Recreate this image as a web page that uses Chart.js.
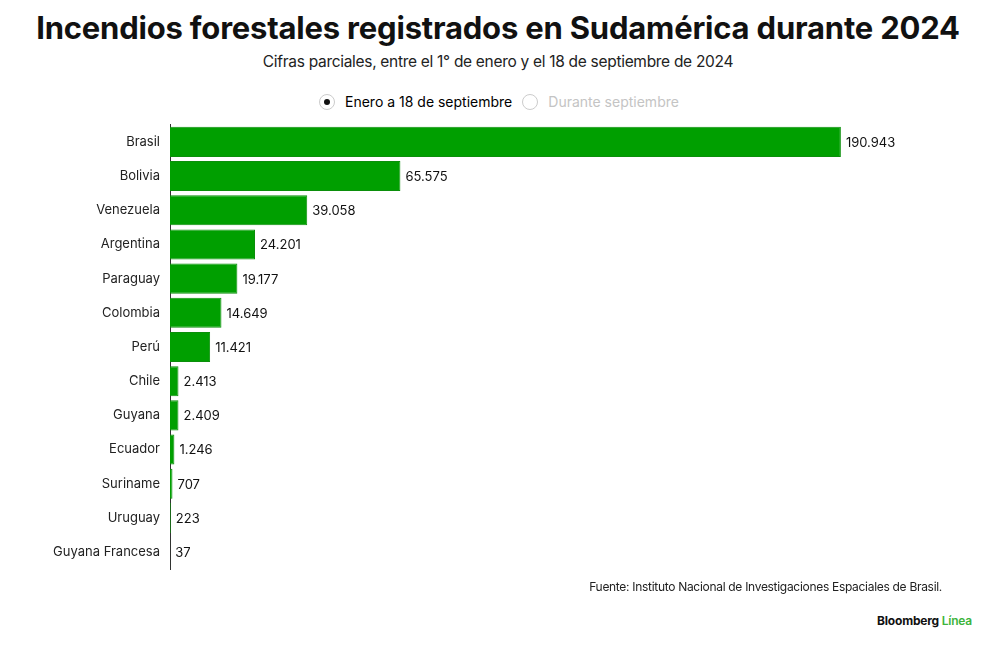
<!DOCTYPE html>
<html>
<head>
<meta charset="utf-8">
<script src="https://cdn.jsdelivr.net/npm/chart.js@4"></script>
<style>
  body { margin: 0; background: #fff; font-family: Inter, "Liberation Sans", sans-serif; }
  #wrap { position: relative; width: 1000px; height: 650px; overflow: hidden; }
  h1 { position: absolute; top: 9px; left: 0; width: 996px; margin: 0; text-align: center;
       font-size: 31px; font-weight: 700; letter-spacing: -0.2px; color: #111; }
  .sub { position: absolute; top: 52px; left: 0; width: 996px; text-align: center;
         font-size: 15.5px; color: #222; letter-spacing: -0.3px; }
  .legend { position: absolute; top: 93px; left: 319px; font-size: 14px; display: flex; align-items: center; }
  .radio { width: 16px; height: 16px; border: 1px solid #ccc; border-radius: 50%; box-sizing: border-box;
           display: inline-flex; align-items: center; justify-content: center; margin-right: 10px; }
  .radio.on::after { content: ""; width: 6px; height: 6px; border-radius: 50%; background: #111; }
  .opt { display: flex; align-items: center; margin-right: 10px; }
  .off { color: #c4c4c4; }
  #box { position: absolute; top: 107px; left: 0; width: 1000px; height: 480px; }
  .src { position: absolute; top: 579px; right: 58px; font-size: 12px; color: #222; letter-spacing: -0.3px; }
  .brand { position: absolute; top: 613px; right: 28px; font-size: 12px; font-weight: 700; color: #111; letter-spacing: -0.2px; }
  .brand span { color: #3cb43c; font-weight: 600; }
</style>
</head>
<body>
<div id="wrap">
  <h1>Incendios forestales registrados en Sudamérica durante 2024</h1>
  <div class="sub">Cifras parciales, entre el 1° de enero y el 18 de septiembre de 2024</div>
  <div class="legend">
    <div class="opt"><span class="radio on"></span>Enero a 18 de septiembre</div>
    <div class="opt off"><span class="radio"></span>Durante septiembre</div>
  </div>
  <div id="box"><canvas id="chart"></canvas></div>
  <div class="src">Fuente: Instituto Nacional de Investigaciones Espaciales de Brasil.</div>
  <div class="brand">Bloomberg <span>Línea</span></div>
</div>
<script>
// datos: focos de incendio, 1 enero - 18 septiembre 2024
const paises = ['Brasil', 'Bolivia', 'Venezuela', 'Argentina', 'Paraguay', 'Colombia', 'Perú',
                'Chile', 'Guyana', 'Ecuador', 'Suriname', 'Uruguay', 'Guyana Francesa'];
const focos = [190943, 65575, 39058, 24201, 19177, 14649, 11421, 2413, 2409, 1246, 707, 223, 37];

function miles(n) {
    return String(n).replace(/\B(?=(\d{3})+(?!\d))/g, '.');
}

// etiquetas al final de cada barra
const etiquetas = {
    id: 'etiquetas',
    afterDatasetsDraw(chart) {
        const ctx = chart.ctx;
        const meta = chart.getDatasetMeta(0);
        ctx.save();
        ctx.font = '13px Inter, "Liberation Sans", sans-serif';
        ctx.fillStyle = '#111';
        ctx.textBaseline = 'middle';
        meta.data.forEach(function(bar, i) {
            ctx.fillText(miles(focos[i]), bar.x + 5, bar.y + 1);
        });
        ctx.restore();
    }
};

new Chart(document.getElementById('chart'), {
    type: 'bar',
    data: {
        labels: paises,
        datasets: [{
            data: focos,
            backgroundColor: '#009f00',
            borderColor: '#0b8f0b',
            borderWidth: 1,
            barPercentage: 0.88,
            categoryPercentage: 1
        }]
    },
    options: {
        indexAxis: 'y',
        responsive: true,
        maintainAspectRatio: false,
        animation: false,
        layout: { padding: { top: 6, bottom: 9, right: 50, left: 0 } },
        scales: {
            x: { display: false, min: 0, max: 222000 },
            y: {
                grid: { display: false, drawTicks: false },
                border: { display: true, color: '#333', width: 1 },
                ticks: { color: '#222', font: { size: 13, family: 'Inter, "Liberation Sans", sans-serif' }, padding: 10 },
                afterFit: function(axis) { axis.width = 170; }
            }
        },
        plugins: {
            legend: { display: false },
            tooltip: { enabled: false }
        }
    },
    plugins: [etiquetas]
});
</script>
</body>
</html>
